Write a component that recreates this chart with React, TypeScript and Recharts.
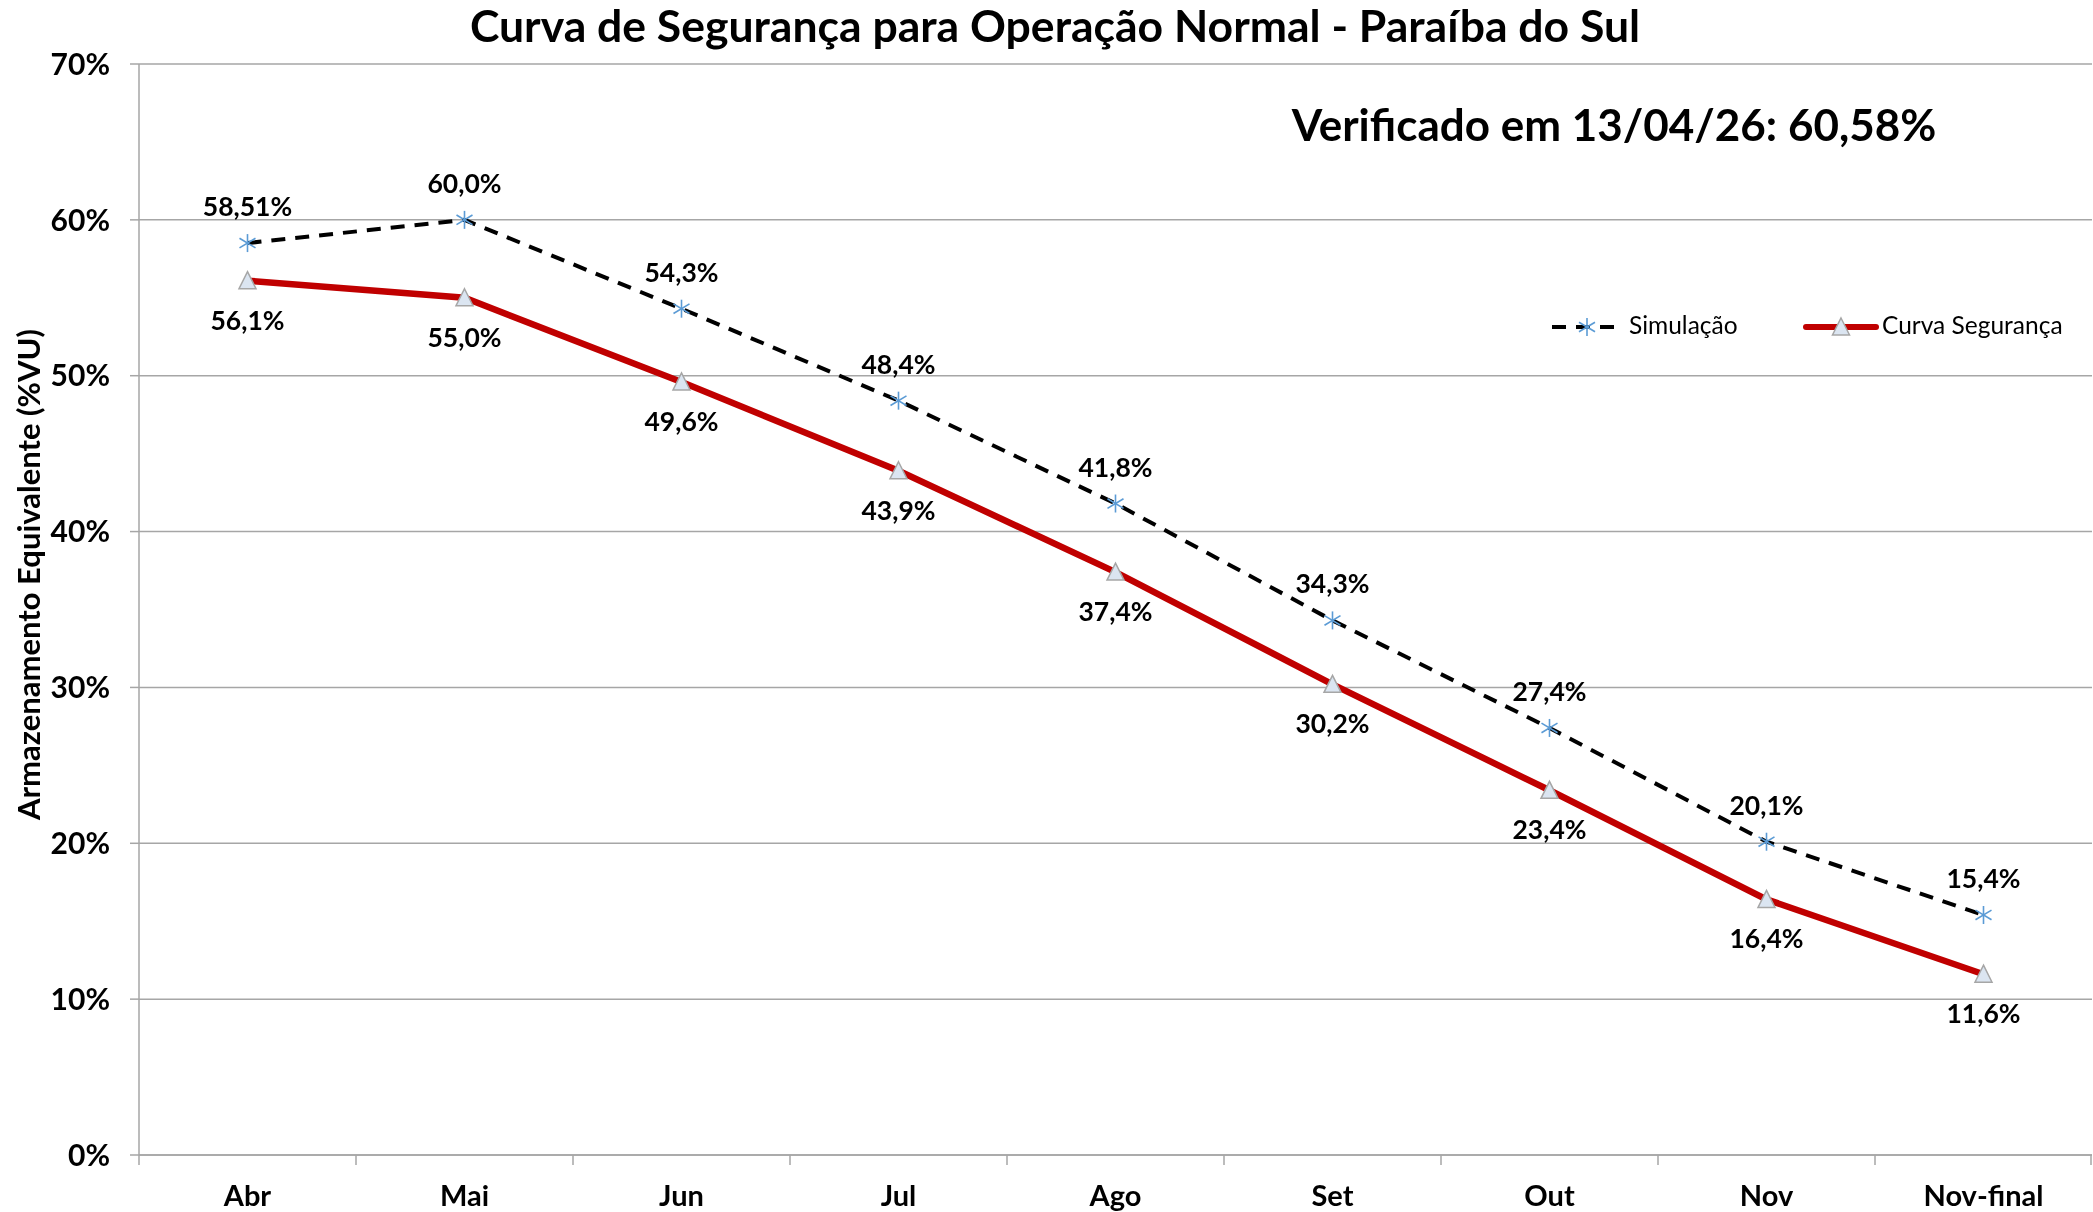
import { LineChart, Line, XAxis, YAxis, CartesianGrid, LabelList } from 'recharts'

const months = ['Abr', 'Mai', 'Jun', 'Jul', 'Ago', 'Set', 'Out', 'Nov', 'Nov-final']
const simulacao = [58.51, 60.0, 54.3, 48.4, 41.8, 34.3, 27.4, 20.1, 15.4]
const curvaSeguranca = [56.1, 55.0, 49.6, 43.9, 37.4, 30.2, 23.4, 16.4, 11.6]
const yTicks = [0, 10, 20, 30, 40, 50, 60, 70]

const FONT = 'Lato, "Open Sans", sans-serif'
const GRID = '#a6a6a6'
const STAR = '#5b9bd5'
const RED = '#c00000'

const chartData = months.map((m, i) => ({
  month: m,
  sim: simulacao[i],
  curva: curvaSeguranca[i],
}))

// 58.51 keeps two decimals, the rest one, comma as separator
function pct(v: number): string {
  const frac = String(v).split('.')[1] ?? ''
  const dec = Math.max(1, frac.length)
  return v.toFixed(dec).replace('.', ',') + '%'
}

function StarDot(props: any) {
  const { cx, cy } = props
  if (cx == null || cy == null) return null
  const r = 9
  const d = 8
  return (
    <g stroke={STAR} strokeWidth={1.6}>
      <line x1={cx} y1={cy - r} x2={cx} y2={cy + r} />
      <line x1={cx - d} y1={cy - d * 0.6} x2={cx + d} y2={cy + d * 0.6} />
      <line x1={cx - d} y1={cy + d * 0.6} x2={cx + d} y2={cy - d * 0.6} />
    </g>
  )
}

function TriangleDot(props: any) {
  const { cx, cy } = props
  if (cx == null || cy == null) return null
  const w = 8.5
  const h = 16
  return (
    <path
      d={`M${cx},${cy - h / 2 - 1} L${cx + w},${cy + h / 2} L${cx - w},${cy + h / 2} Z`}
      fill="#dbe5f1"
      stroke={GRID}
      strokeWidth={1.5}
    />
  )
}

function MonthTick(props: any) {
  const { x, y, payload } = props
  const half = payload.offset ?? 0
  const last = payload.value === months[months.length - 1]
  return (
    <g>
      <line x1={x - half} y1={y} x2={x - half} y2={y + 10} stroke={GRID} strokeWidth={1.5} />
      {last && <line x1={x + half - 1} y1={y} x2={x + half - 1} y2={y + 10} stroke={GRID} strokeWidth={1.5} />}
      <text
        x={x}
        y={y + 39}
        textAnchor="middle"
        dominantBaseline="central"
        fontFamily={FONT}
        fontWeight={700}
        fontSize={29}
        fill="#000"
      >
        {payload.value}
      </text>
    </g>
  )
}

function makeLabel(dy: number) {
  return (props: any) => {
    const { x, y, value } = props
    return (
      <text
        x={x}
        y={y + dy}
        textAnchor="middle"
        dominantBaseline="central"
        fontFamily={FONT}
        fontWeight={700}
        fontSize={26.5}
        fill="#000"
      >
        {pct(value)}
      </text>
    )
  }
}

function YTitle(props: any) {
  const { viewBox } = props
  const x = viewBox.x + 28
  const y = viewBox.y + viewBox.height / 2 - 35
  return (
    <text
      x={x}
      y={y}
      transform={`rotate(-90 ${x} ${y})`}
      textAnchor="middle"
      dominantBaseline="central"
      fontFamily={FONT}
      fontWeight={700}
      fontSize={31}
      fill="#000"
    >
      Armazenamento Equivalente (%VU)
    </text>
  )
}

function LegendOverlay() {
  const text = {
    fontFamily: FONT, fontSize: 24.5, color: '#000', position: 'absolute' as const,
    top: 310, lineHeight: '30px', whiteSpace: 'nowrap' as const,
  }
  return (
    <>
      <svg style={{ position: 'absolute', left: 1548, top: 312 }} width={80} height={30}>
        <line x1={4} y1={15} x2={74} y2={15} stroke="#000" strokeWidth={4} strokeDasharray="14 10" />
        <StarDot cx={39} cy={15} />
      </svg>
      <div style={{ ...text, left: 1629 }}>Simulação</div>
      <svg style={{ position: 'absolute', left: 1802, top: 312 }} width={80} height={30}>
        <line x1={4} y1={15} x2={74} y2={15} stroke={RED} strokeWidth={6} strokeLinecap="round" />
        <TriangleDot cx={39} cy={15} />
      </svg>
      <div style={{ ...text, left: 1882 }}>Curva Segurança</div>
    </>
  )
}

export default function App() {
  return (
    <div style={{ position: 'fixed', left: 0, top: 0, width: 2093, height: 1212, background: '#fff' }}>
      <div
        style={{
          position: 'absolute', left: 0, width: 2110, top: -3, textAlign: 'center', whiteSpace: 'nowrap',
          fontFamily: FONT, fontWeight: 700, fontSize: 44.5, lineHeight: '56px', color: '#000',
        }}
      >
        Curva de Segurança para Operação Normal - Paraíba do Sul
      </div>
      <div
        style={{
          position: 'absolute', left: 1214, width: 800, top: 96, textAlign: 'center', whiteSpace: 'nowrap',
          fontFamily: FONT, fontWeight: 700, fontSize: 44, lineHeight: '56px', color: '#000',
        }}
      >
        Verificado em 13/04/26: 60,58%
      </div>
      <LineChart
        width={2093}
        height={1212}
        data={chartData}
        margin={{ top: 64, right: 1, left: 0, bottom: 0 }}
      >
        <CartesianGrid vertical={false} stroke={GRID} strokeWidth={1.5} />
        <XAxis
          dataKey="month"
          scale="band"
          height={57}
          axisLine={{ stroke: GRID, strokeWidth: 1.5 }}
          tickLine={false}
          tickSize={0}
          tickMargin={0}
          interval={0}
          tick={<MonthTick />}
        />
        <YAxis
          width={139}
          domain={[0, 70]}
          ticks={yTicks}
          interval={0}
          axisLine={{ stroke: GRID, strokeWidth: 1.5 }}
          tickLine={{ stroke: GRID, strokeWidth: 1.5 }}
          tickSize={9}
          tickMargin={20}
          tickFormatter={(v) => `${v}%`}
          tick={{ fontFamily: FONT, fontWeight: 700, fontSize: 30, fill: '#000' }}
          label={{ content: <YTitle /> }}
        />
        <Line
          dataKey="curva"
          stroke={RED}
          strokeWidth={6.5}
          dot={<TriangleDot />}
          activeDot={false}
          isAnimationActive={false}
        >
          <LabelList dataKey="curva" content={makeLabel(39)} />
        </Line>
        <Line
          dataKey="sim"
          stroke="#000"
          strokeWidth={4}
          strokeDasharray="14 10"
          dot={<StarDot />}
          activeDot={false}
          isAnimationActive={false}
        >
          <LabelList dataKey="sim" content={makeLabel(-37)} />
        </Line>
      </LineChart>
      <LegendOverlay />
    </div>
  )
}
